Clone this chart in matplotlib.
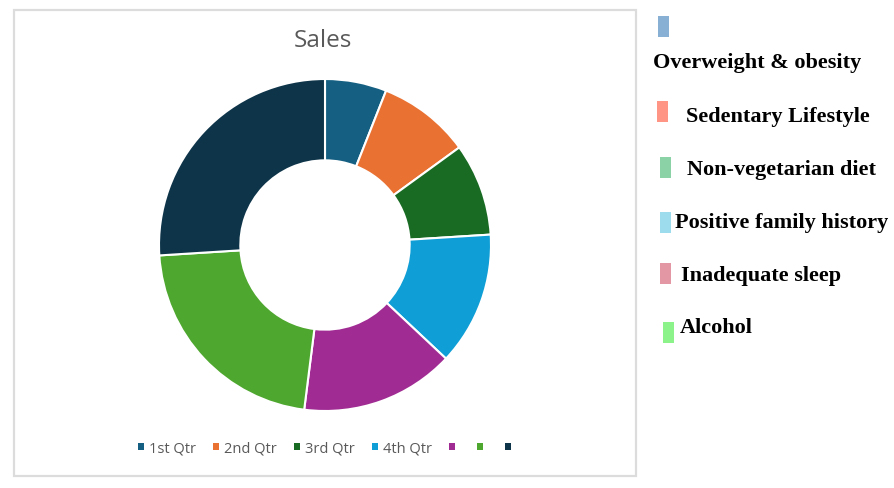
import matplotlib.pyplot as plt
from matplotlib.patches import Rectangle

# donut data
quarters = ['1st Qtr', '2nd Qtr', '3rd Qtr', '4th Qtr', '', '', '']
sales = [6, 9, 9, 13, 15, 22, 26]
colors = ['#156082', '#E97132', '#196B24', '#0F9ED5', '#A02B93', '#4EA72E', '#0D3449']

# side key pasted next to the chart
factors = ['Overweight & obesity', 'Sedentary Lifestyle', 'Non-vegetarian diet',
           'Positive family history', 'Inadequate sleep', 'Alcohol']
factor_colors = ['#7BA7D0', '#FF8A78', '#7ECF9C', '#92D9EA', '#E08C9A', '#80F27E']

W, H = 894, 489
fig = plt.figure(figsize=(W / 100, H / 100), dpi=100)

def px(x, y):
    return x / W, 1 - y / H

# chart frame
x0, y0 = px(14, 477)
x1, y1 = px(636, 11)
fig.patches.append(Rectangle((x0, y0), x1 - x0, y1 - y0, transform=fig.transFigure,
                             fill=False, edgecolor='#DCDCDC', linewidth=1.6))

# donut axes centred at (325, 246), radius 166 px
cx, cy, r = 325, 246, 166
ax = fig.add_axes([(cx - r) / W, 1 - (cy + r) / H, 2 * r / W, 2 * r / H])
wedges, _ = ax.pie(sales, colors=colors, startangle=90, counterclock=False,
                   radius=1, wedgeprops=dict(width=0.49, edgecolor='white', linewidth=1.5))
ax.set_xlim(-1, 1)
ax.set_ylim(-1, 1)

tx, ty = px(323, 41)
fig.text(tx, ty, 'Sales', ha='center', va='center', fontsize=17.5, color='#595959',
         family='Open Sans')

lx, ly = px(327, 449)
leg = fig.legend(wedges, quarters, loc='center', bbox_to_anchor=(lx, ly), ncol=7,
                 frameon=False, handlelength=0.42, handleheight=0.42,
                 handletextpad=0.35, columnspacing=1.15,
                 prop=dict(family='Open Sans', size=10.5))
for t in leg.get_texts():
    t.set_color('#595959')
for h in leg.legend_handles:
    h.set_edgecolor('none')

# side key: swatch boxes (left, top) and label positions (x, centre y)
swatches = [(658, 17), (657, 102), (660, 158), (660, 213), (660, 264), (663, 323)]
label_pos = [(653, 63), (686, 117), (687, 170), (675, 223), (681, 276), (680, 328)]
for (sx, sy), c in zip(swatches, factor_colors):
    bx, by = px(sx, sy + 21)
    fig.patches.append(Rectangle((bx, by), 11 / W, 21 / H, transform=fig.transFigure,
                                 facecolor=c, edgecolor='none', alpha=0.9))
for (lx, ly), name in zip(label_pos, factors):
    fx, fy = px(lx, ly)
    fig.text(fx, fy, name, ha='left', va='center', fontsize=16, fontweight='bold',
             family='Liberation Serif', color='black')

fig.savefig('out.png', dpi=100)
